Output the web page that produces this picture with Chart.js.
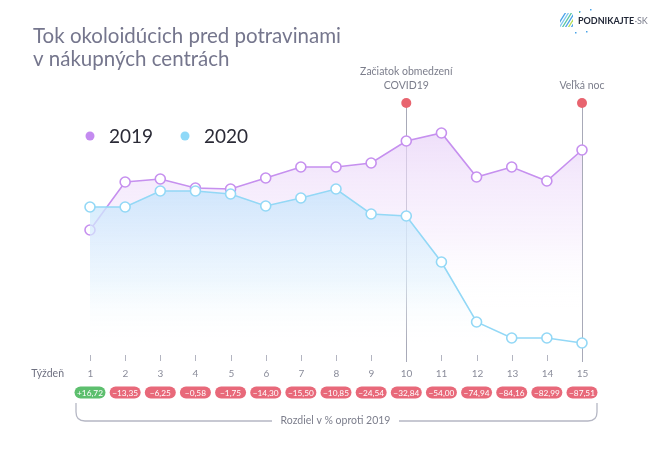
<!DOCTYPE html>
<html>
<head>
<meta charset="utf-8">
<script src="https://cdn.jsdelivr.net/npm/chart.js@4/dist/chart.umd.min.js"></script>
<style>
html,body{margin:0;padding:0;background:#fff;}
#wrap{width:656px;height:449px;position:relative;}
</style>
</head>
<body>
<div id="wrap"><canvas id="c" width="656" height="449"></canvas></div>
<script>
// ---- data ----
const weeks = ['1','2','3','4','5','6','7','8','9','10','11','12','13','14','15'];
const values2019 = [138,186,189,180,179,190,201,201,205,227,235,191,201,187,218];
const values2020 = [161,161,177,177,174,162,170,179,154,152,106,46,30,30,25];
const diffLabels = ['+16,72','−13,35','−6,25','−0,58','−1,75','−14,30','−15,50','−10,85','−24,54','−32,84','−54,00','−74,94','−84,16','−82,99','−87,51'];
const diffPositive = [true,false,false,false,false,false,false,false,false,false,false,false,false,false,false];
const markers = [{week:'10', lines:['Začiatok obmedzení','COVID19']},{week:'15', lines:['Veľká noc']}];
const titleLines = ['Tok okoloidúcich pred potravinami','v nákupných centrách'];

const FONT = 'Lato, "Open Sans", sans-serif';
const C19 = '#c690ef';
const C20 = '#93d8f6';

function grad(chart, top, bottom, c1, c2, c3){
  const {ctx, chartArea} = chart;
  if(!chartArea) return c1;
  const g = ctx.createLinearGradient(0, top, 0, bottom);
  g.addColorStop(0, c1);
  g.addColorStop(0.6, c2);
  g.addColorStop(1, c3);
  return g;
}

function roundRect(ctx,x,y,w,h,r){
  ctx.beginPath();
  ctx.moveTo(x+r,y);
  ctx.lineTo(x+w-r,y);
  ctx.arc(x+w-r,y+r,r,-Math.PI/2,Math.PI/2);
  ctx.lineTo(x+r,y+h);
  ctx.arc(x+r,y+r,r,Math.PI/2,Math.PI*1.5);
  ctx.closePath();
}

const decor = {
  id:'decor',
  beforeDatasetsDraw(chart){
    const ctx = chart.ctx, xs = chart.scales.x;
    ctx.save();
    ctx.strokeStyle = '#a8aab8';
    ctx.lineWidth = 1;
    markers.forEach(m=>{
      const x = Math.round(xs.getPixelForValue(weeks.indexOf(m.week)))+0.5;
      ctx.beginPath(); ctx.moveTo(x,104); ctx.lineTo(x,362); ctx.stroke();
    });
    ctx.restore();
  },
  afterDraw(chart){
    const ctx = chart.ctx, xs = chart.scales.x;
    ctx.save();
    // title
    ctx.fillStyle = '#75768d';
    ctx.font = '20.5px ' + FONT;
    ctx.textBaseline = 'alphabetic';
    ctx.textAlign = 'left';
    ctx.fillText(titleLines[0], 33, 43);
    ctx.fillText(titleLines[1], 33, 66);

    // logo
    ctx.save();
    ctx.beginPath(); ctx.rect(560,13,13,14); ctx.clip();
    const stripeCols = ['#4aa3e8','#7ec8f0','#5bc6a0','#4aa3e8','#b6dd5a','#4aa3e8','#7ec8f0'];
    ctx.lineWidth = 1.3;
    for(let i=0;i<9;i++){
      ctx.strokeStyle = stripeCols[i%stripeCols.length];
      ctx.beginPath(); ctx.moveTo(556+i*3,28); ctx.lineTo(566+i*3,12); ctx.stroke();
    }
    ctx.restore();
    ctx.fillStyle = '#4aa3e8';
    ctx.fillRect(579,11,1.5,1.5); ctx.fillRect(590,9,1.5,1.5); ctx.fillRect(586,31,1.5,1.5); ctx.fillRect(575,32,1.5,1.5);
    ctx.fillStyle = '#7ec850'; ctx.fillRect(579,12,1,1);
    ctx.font = 'bold 9px ' + FONT;
    ctx.fillStyle = '#1f2535';
    ctx.textBaseline = 'middle';
    ctx.fillText('PODNIKAJTE', 578, 21);
    const w = ctx.measureText('PODNIKAJTE').width;
    ctx.font = '9px ' + FONT;
    ctx.fillStyle = '#7a7d8c';
    ctx.fillText('·SK', 578 + w + 0.5, 21);

    // legend
    const leg = [{c:'#c48bf0', t:'2019', x:90},{c:'#8fd9f8', t:'2020', x:185}];
    ctx.font = '19px ' + FONT;
    ctx.textBaseline = 'middle';
    leg.forEach(l=>{
      ctx.fillStyle = l.c;
      ctx.beginPath(); ctx.arc(l.x,136,4.5,0,Math.PI*2); ctx.fill();
      ctx.fillStyle = '#2a2a36';
      ctx.fillText(l.t, l.x+19, 137);
    });

    // markers (dots + labels)
    markers.forEach(m=>{
      const x = xs.getPixelForValue(weeks.indexOf(m.week));
      ctx.fillStyle = '#e8646f';
      ctx.beginPath(); ctx.arc(x,103,5,0,Math.PI*2); ctx.fill();
      ctx.fillStyle = '#7b7d8b';
      ctx.font = '10.5px ' + FONT;
      ctx.textAlign = 'center';
      ctx.textBaseline = 'alphabetic';
      const n = m.lines.length;
      m.lines.forEach((ln,i)=>{
        ctx.fillText(ln, x, 89 - (n-1-i)*14);
      });
    });

    // ticks and week labels
    ctx.strokeStyle = '#b3b5c1';
    ctx.lineWidth = 1;
    weeks.forEach((wk,i)=>{
      const x = Math.round(xs.getPixelForValue(i))+0.5;
      if(!markers.some(m=>m.week===wk)){
        ctx.beginPath(); ctx.moveTo(x,355); ctx.lineTo(x,361); ctx.stroke();
      }
      ctx.fillStyle = '#8a8c9a';
      ctx.font = '10px ' + FONT;
      ctx.textAlign = 'center';
      ctx.textBaseline = 'middle';
      ctx.fillText(wk, x, 374);
    });
    ctx.fillStyle = '#6f7181';
    ctx.font = '10.5px ' + FONT;
    ctx.textAlign = 'right';
    ctx.fillText('Týždeň', 64, 374);

    // pills
    weeks.forEach((wk,i)=>{
      const x = xs.getPixelForValue(i);
      ctx.fillStyle = diffPositive[i] ? '#5dbf6e' : '#e8697a';
      roundRect(ctx, x-15.5, 386.5, 31, 12, 6);
      ctx.fill();
      ctx.fillStyle = '#ffffff';
      ctx.font = '8.3px ' + FONT;
      ctx.textAlign = 'center';
      ctx.textBaseline = 'middle';
      ctx.fillText(diffLabels[i], x, 393);
    });

    // bracket
    const x0 = xs.getPixelForValue(0) - 14;
    const x1 = xs.getPixelForValue(weeks.length-1) + 15;
    ctx.strokeStyle = '#b5b7c4';
    ctx.lineWidth = 1.3;
    ctx.beginPath();
    ctx.moveTo(x0,403); ctx.lineTo(x0,412); ctx.quadraticCurveTo(x0,421,x0+9,421); ctx.lineTo(272,421);
    ctx.stroke();
    ctx.beginPath();
    ctx.moveTo(399,421); ctx.lineTo(x1-9,421); ctx.quadraticCurveTo(x1,421,x1,412); ctx.lineTo(x1,403);
    ctx.stroke();
    ctx.fillStyle = '#7c7e8c';
    ctx.font = '10.5px ' + FONT;
    ctx.textAlign = 'center';
    ctx.textBaseline = 'middle';
    ctx.fillText('Rozdiel v % oproti 2019', 335.5, 421);
    ctx.restore();
  }
};

new Chart(document.getElementById('c'), {
  type:'line',
  data:{
    labels: weeks,
    datasets:[
      {
        label:'2020', data: values2020, order:1,
        borderColor: C20, borderWidth:1.6,
        pointBackgroundColor:'#ffffff', pointBorderColor: C20, pointBorderWidth:1.6, pointRadius:5,
        fill:'start', tension:0,
        backgroundColor: ctx => grad(ctx.chart, 185, 345, 'rgba(200,228,252,0.85)', 'rgba(225,242,253,0.55)', 'rgba(255,255,255,0)')
      },
      {
        label:'2019', data: values2019, order:2,
        borderColor: C19, borderWidth:1.6,
        pointBackgroundColor:'#ffffff', pointBorderColor: C19, pointBorderWidth:1.6, pointRadius:5,
        fill:'start', tension:0,
        backgroundColor: ctx => grad(ctx.chart, 130, 310, 'rgba(233,212,248,0.75)', 'rgba(244,232,252,0.45)', 'rgba(255,255,255,0)')
      }
    ]
  },
  options:{
    responsive:false,
    animation:false,
    layout:{padding:{left:90, right:74, top:100, bottom:81}},
    plugins:{legend:{display:false}, tooltip:{enabled:false}},
    scales:{
      x:{display:false, offset:false},
      y:{display:false, min:0, max:268}
    }
  },
  plugins:[decor]
});
</script>
</body>
</html>
